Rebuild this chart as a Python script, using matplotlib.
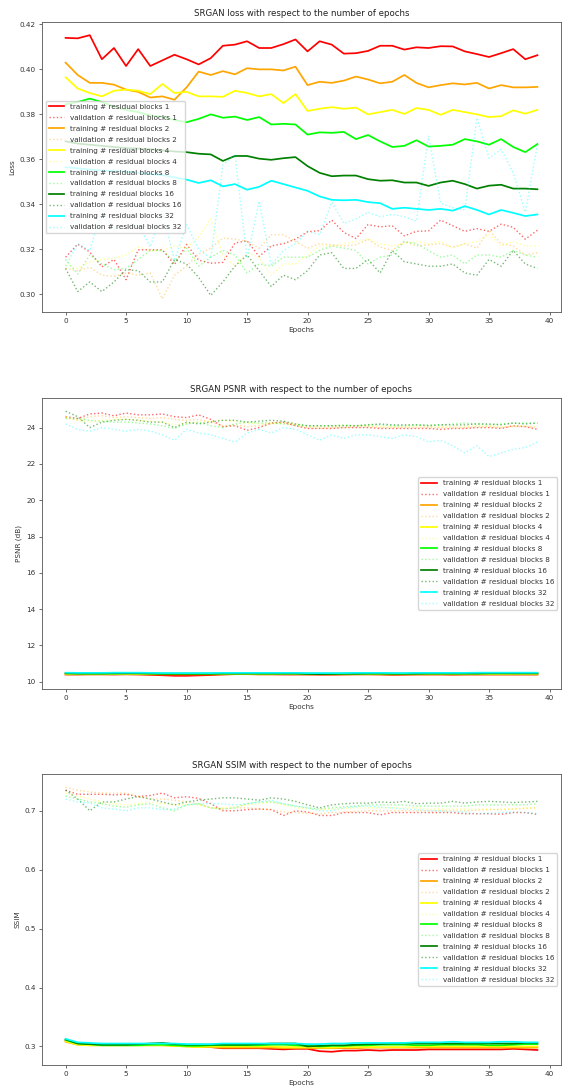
import matplotlib
matplotlib.use("Agg")
import matplotlib.pyplot as plt
import numpy as np

epochs = np.arange(40)
blocks = [1, 2, 4, 8, 16, 32]
train_colors = ["red", "orange", "yellow", "lime", "green", "cyan"]

# ---- loss ----
loss_train_1 = [0.4140, 0.4138, 0.4152, 0.4045, 0.4095, 0.4015, 0.4090, 0.4015, 0.4040, 0.4065,
                0.4045, 0.4022, 0.4050, 0.4105, 0.4110, 0.4125, 0.4095, 0.4095, 0.4112, 0.4133,
                0.4080, 0.4125, 0.4110, 0.4070, 0.4072, 0.4082, 0.4105, 0.4105, 0.4088, 0.4098,
                0.4095, 0.4103, 0.4102, 0.4080, 0.4068, 0.4055, 0.4072, 0.4090, 0.4045, 0.4063]
loss_train_2 = [0.4030, 0.3975, 0.3940, 0.3940, 0.3932, 0.3910, 0.3900, 0.3875, 0.3880, 0.3865,
                0.3920, 0.3990, 0.3975, 0.3992, 0.3978, 0.4005, 0.4000, 0.4000, 0.3995, 0.4012,
                0.3930, 0.3945, 0.3940, 0.3950, 0.3968, 0.3955, 0.3938, 0.3945, 0.3975, 0.3940,
                0.3920, 0.3930, 0.3938, 0.3933, 0.3940, 0.3915, 0.3930, 0.3920, 0.3920, 0.3922]
loss_train_4 = [0.3965, 0.3915, 0.3895, 0.3880, 0.3905, 0.3910, 0.3905, 0.3890, 0.3935, 0.3895,
                0.3900, 0.3880, 0.3880, 0.3878, 0.3905, 0.3895, 0.3880, 0.3890, 0.3850, 0.3890,
                0.3815, 0.3825, 0.3832, 0.3825, 0.3830, 0.3800, 0.3810, 0.3820, 0.3802, 0.3828,
                0.3820, 0.3798, 0.3820, 0.3810, 0.3800, 0.3788, 0.3792, 0.3818, 0.3803, 0.3820]
loss_train_8 = [0.3845, 0.3855, 0.3870, 0.3855, 0.3835, 0.3820, 0.3810, 0.3795, 0.3790, 0.3775,
                0.3765, 0.3780, 0.3800, 0.3785, 0.3790, 0.3775, 0.3788, 0.3755, 0.3758, 0.3755,
                0.3710, 0.3720, 0.3718, 0.3722, 0.3690, 0.3708, 0.3680, 0.3655, 0.3660, 0.3685,
                0.3657, 0.3660, 0.3665, 0.3690, 0.3680, 0.3665, 0.3690, 0.3655, 0.3632, 0.3668]
loss_train_16 = [0.3680, 0.3670, 0.3665, 0.3660, 0.3655, 0.3650, 0.3648, 0.3645, 0.3640, 0.3635,
                 0.3632, 0.3625, 0.3622, 0.3593, 0.3615, 0.3615, 0.3603, 0.3598, 0.3605, 0.3610,
                 0.3570, 0.3540, 0.3525, 0.3528, 0.3528, 0.3512, 0.3505, 0.3507, 0.3497, 0.3497,
                 0.3482, 0.3497, 0.3505, 0.3490, 0.3470, 0.3483, 0.3487, 0.3470, 0.3470, 0.3467]
loss_train_32 = [0.3565, 0.3560, 0.3555, 0.3550, 0.3548, 0.3545, 0.3540, 0.3535, 0.3530, 0.3520,
                 0.3510, 0.3495, 0.3507, 0.3480, 0.3490, 0.3465, 0.3478, 0.3505, 0.3490, 0.3475,
                 0.3460, 0.3435, 0.3420, 0.3418, 0.3420, 0.3410, 0.3405, 0.3380, 0.3385, 0.3380,
                 0.3375, 0.3380, 0.3372, 0.3392, 0.3375, 0.3355, 0.3375, 0.3362, 0.3348, 0.3355]
loss_val_1 = [0.3165, 0.3223, 0.3188, 0.3122, 0.3155, 0.3065, 0.3198, 0.3198, 0.3198, 0.3132,
              0.3222, 0.3152, 0.3138, 0.3142, 0.3228, 0.3238, 0.3168, 0.3215, 0.3225, 0.3245,
              0.3278, 0.3283, 0.3330, 0.3275, 0.3248, 0.3310, 0.3300, 0.3305, 0.3260, 0.3280,
              0.3282, 0.3330, 0.3305, 0.3280, 0.3292, 0.3280, 0.3312, 0.3298, 0.3245, 0.3285]
loss_val_2 = [0.3115, 0.3105, 0.3120, 0.3085, 0.3080, 0.3095, 0.3085, 0.3095, 0.2980, 0.3085,
              0.3125, 0.3180, 0.3205, 0.3250, 0.3245, 0.3235, 0.3205, 0.3265, 0.3265, 0.3235,
              0.3205, 0.3225, 0.3220, 0.3215, 0.3220, 0.3245, 0.3210, 0.3195, 0.3235, 0.3215,
              0.3220, 0.3225, 0.3210, 0.3225, 0.3205, 0.3285, 0.3225, 0.3215, 0.3175, 0.3185]
loss_val_4 = [0.3130, 0.3115, 0.3145, 0.3155, 0.3160, 0.3175, 0.3210, 0.3195, 0.3195, 0.3215,
              0.3205, 0.3255, 0.3335, 0.3175, 0.3125, 0.3185, 0.3165, 0.3085, 0.3135, 0.3135,
              0.3175, 0.3215, 0.3215, 0.3225, 0.3235, 0.3245, 0.3225, 0.3215, 0.3225, 0.3235,
              0.3225, 0.3235, 0.3205, 0.3225, 0.3235, 0.3265, 0.3215, 0.3235, 0.3215, 0.3215]
loss_val_8 = [0.3155, 0.3090, 0.3175, 0.3135, 0.3110, 0.3115, 0.3155, 0.3195, 0.3195, 0.3145,
              0.3205, 0.3125, 0.3165, 0.3195, 0.3175, 0.3095, 0.3135, 0.3125, 0.3165, 0.3165,
              0.3165, 0.3195, 0.3215, 0.3205, 0.3195, 0.3135, 0.3165, 0.3175, 0.3235, 0.3225,
              0.3195, 0.3165, 0.3175, 0.3135, 0.3175, 0.3175, 0.3165, 0.3195, 0.3175, 0.3165]
loss_val_16 = [0.3115, 0.3012, 0.3055, 0.3012, 0.3055, 0.3110, 0.3105, 0.3055, 0.3055, 0.3155,
               0.3135, 0.3075, 0.2995, 0.3055, 0.3125, 0.3175, 0.3105, 0.3035, 0.3085, 0.3065,
               0.3105, 0.3175, 0.3185, 0.3115, 0.3115, 0.3155, 0.3095, 0.3195, 0.3145, 0.3135,
               0.3125, 0.3125, 0.3135, 0.3095, 0.3085, 0.3155, 0.3125, 0.3195, 0.3135, 0.3115]
loss_val_32 = [0.3125, 0.3225, 0.3195, 0.3380, 0.3290, 0.3305, 0.3310, 0.3210, 0.3370, 0.3150,
               0.3310, 0.3200, 0.3160, 0.3575, 0.3620, 0.3160, 0.3415, 0.3130, 0.3195, 0.3225,
               0.3280, 0.3265, 0.3410, 0.3315, 0.3335, 0.3365, 0.3345, 0.3355, 0.3345, 0.3325,
               0.3705, 0.3405, 0.3385, 0.3375, 0.3785, 0.3605, 0.3645, 0.3540, 0.3365, 0.3665]

# ---- PSNR ----
psnr_train_1 = [10.40, 10.40, 10.41, 10.41, 10.40, 10.41, 10.40, 10.38, 10.36, 10.33,
                10.33, 10.35, 10.37, 10.40, 10.42, 10.42, 10.41, 10.41, 10.40, 10.40,
                10.40, 10.39, 10.39, 10.40, 10.41, 10.41, 10.40, 10.38, 10.39, 10.40,
                10.40, 10.40, 10.39, 10.40, 10.40, 10.40, 10.40, 10.40, 10.40, 10.40]
psnr_train_2 = [10.41, 10.41, 10.41, 10.41, 10.42, 10.42, 10.41, 10.41, 10.41, 10.41,
                10.41, 10.41, 10.41, 10.41, 10.42, 10.42, 10.41, 10.41, 10.42, 10.42,
                10.41, 10.41, 10.41, 10.41, 10.41, 10.41, 10.41, 10.40, 10.41, 10.41,
                10.41, 10.41, 10.41, 10.41, 10.41, 10.41, 10.41, 10.41, 10.41, 10.41]
psnr_train_4 = [10.42, 10.42, 10.42, 10.42, 10.42, 10.43, 10.42, 10.42, 10.42, 10.42,
                10.42, 10.42, 10.42, 10.42, 10.43, 10.43, 10.42, 10.42, 10.43, 10.43,
                10.42, 10.42, 10.42, 10.42, 10.42, 10.43, 10.42, 10.42, 10.42, 10.42,
                10.42, 10.42, 10.42, 10.42, 10.42, 10.42, 10.42, 10.43, 10.43, 10.43]
psnr_train_8 = [10.47, 10.46, 10.46, 10.46, 10.46, 10.47, 10.47, 10.46, 10.45, 10.45,
                10.45, 10.45, 10.45, 10.46, 10.46, 10.47, 10.46, 10.46, 10.46, 10.46,
                10.45, 10.44, 10.44, 10.45, 10.45, 10.46, 10.46, 10.45, 10.45, 10.46,
                10.46, 10.46, 10.46, 10.46, 10.46, 10.47, 10.47, 10.47, 10.47, 10.47]
psnr_train_16 = [10.46, 10.45, 10.45, 10.45, 10.46, 10.46, 10.46, 10.45, 10.44, 10.44,
                 10.44, 10.44, 10.44, 10.45, 10.45, 10.45, 10.45, 10.45, 10.45, 10.45,
                 10.43, 10.42, 10.43, 10.44, 10.44, 10.45, 10.45, 10.44, 10.44, 10.44,
                 10.45, 10.45, 10.45, 10.45, 10.45, 10.46, 10.46, 10.46, 10.46, 10.46]
psnr_train_32 = [10.50, 10.49, 10.49, 10.49, 10.50, 10.50, 10.50, 10.49, 10.48, 10.48,
                 10.48, 10.48, 10.48, 10.49, 10.49, 10.49, 10.49, 10.49, 10.49, 10.49,
                 10.48, 10.48, 10.48, 10.48, 10.49, 10.49, 10.49, 10.48, 10.48, 10.49,
                 10.49, 10.49, 10.49, 10.49, 10.50, 10.50, 10.50, 10.50, 10.50, 10.50]
psnr_val_1 = [24.60, 24.50, 24.75, 24.80, 24.65, 24.80, 24.70, 24.70, 24.75, 24.60,
              24.55, 24.70, 24.45, 24.05, 24.10, 23.85, 24.00, 24.25, 24.30, 24.10,
              23.95, 23.95, 23.95, 24.00, 24.00, 24.00, 23.95, 23.95, 23.95, 23.95,
              23.95, 23.90, 23.95, 23.95, 24.00, 24.00, 23.95, 24.10, 24.05, 23.90]
psnr_val_2 = [24.55, 24.40, 24.60, 24.65, 24.55, 24.60, 24.55, 24.50, 24.55, 24.45,
              24.40, 24.45, 24.30, 24.10, 24.15, 24.05, 24.10, 24.20, 24.25, 24.10,
              24.00, 23.95, 24.00, 24.00, 24.05, 24.05, 24.00, 24.00, 24.00, 24.00,
              24.00, 24.00, 24.00, 24.00, 24.05, 24.05, 24.00, 24.05, 24.05, 24.00]
psnr_val_4 = [24.60, 24.40, 24.30, 24.40, 24.45, 24.45, 24.40, 24.35, 24.30, 24.15,
              24.25, 24.30, 24.35, 24.40, 24.35, 24.25, 24.20, 24.25, 24.30, 24.20,
              24.05, 24.05, 24.05, 24.10, 24.10, 24.10, 24.05, 24.05, 24.05, 24.10,
              24.05, 24.05, 24.05, 24.05, 24.10, 24.10, 24.05, 24.10, 24.10, 24.05]
psnr_val_8 = [24.50, 24.50, 24.40, 24.35, 24.30, 24.30, 24.25, 24.20, 24.10, 23.95,
              24.20, 24.30, 24.10, 24.00, 24.20, 24.30, 24.25, 24.25, 24.20, 24.15,
              24.10, 24.10, 24.10, 24.15, 24.10, 24.15, 24.15, 24.10, 24.10, 24.15,
              24.15, 24.15, 24.20, 24.25, 24.20, 24.15, 24.20, 24.25, 24.25, 24.25]
psnr_val_16 = [24.90, 24.60, 24.00, 24.30, 24.40, 24.45, 24.40, 24.30, 24.30, 24.00,
               24.30, 24.20, 24.30, 24.40, 24.40, 24.30, 24.35, 24.40, 24.35, 24.20,
               24.10, 24.10, 24.10, 24.10, 24.10, 24.15, 24.20, 24.15, 24.15, 24.15,
               24.10, 24.15, 24.15, 24.15, 24.20, 24.20, 24.15, 24.25, 24.20, 24.25]
psnr_val_32 = [24.20, 23.90, 23.80, 24.00, 23.90, 23.80, 23.90, 23.80, 23.60, 23.30,
               23.90, 23.70, 23.60, 23.40, 23.20, 23.70, 23.90, 23.70, 24.00, 23.90,
               23.60, 23.30, 23.60, 23.40, 23.60, 23.60, 23.50, 23.40, 23.60, 23.50,
               23.20, 23.30, 23.00, 22.60, 23.00, 22.40, 22.60, 22.80, 22.90, 23.20]

# ---- SSIM ----
ssim_train_1 = [0.310, 0.304, 0.303, 0.303, 0.303, 0.303, 0.304, 0.304, 0.304, 0.302,
                0.301, 0.300, 0.299, 0.297, 0.297, 0.297, 0.297, 0.296, 0.295, 0.296,
                0.296, 0.292, 0.291, 0.293, 0.293, 0.294, 0.293, 0.294, 0.294, 0.294,
                0.295, 0.295, 0.295, 0.295, 0.295, 0.295, 0.295, 0.296, 0.295, 0.294]
ssim_train_2 = [0.308, 0.303, 0.302, 0.302, 0.302, 0.302, 0.302, 0.302, 0.302, 0.301,
                0.300, 0.299, 0.299, 0.298, 0.298, 0.298, 0.298, 0.298, 0.297, 0.297,
                0.297, 0.297, 0.297, 0.297, 0.297, 0.298, 0.298, 0.298, 0.298, 0.298,
                0.298, 0.298, 0.298, 0.298, 0.298, 0.298, 0.298, 0.298, 0.298, 0.298]
ssim_train_4 = [0.309, 0.303, 0.302, 0.302, 0.302, 0.302, 0.302, 0.302, 0.302, 0.301,
                0.300, 0.299, 0.300, 0.300, 0.300, 0.300, 0.300, 0.300, 0.299, 0.299,
                0.299, 0.298, 0.298, 0.299, 0.299, 0.299, 0.299, 0.299, 0.299, 0.300,
                0.300, 0.300, 0.300, 0.300, 0.300, 0.300, 0.300, 0.300, 0.300, 0.300]
ssim_train_8 = [0.311, 0.305, 0.304, 0.302, 0.302, 0.302, 0.302, 0.303, 0.303, 0.302,
                0.301, 0.301, 0.302, 0.302, 0.302, 0.302, 0.302, 0.303, 0.303, 0.302,
                0.301, 0.300, 0.301, 0.301, 0.302, 0.302, 0.303, 0.303, 0.303, 0.302,
                0.302, 0.303, 0.303, 0.303, 0.303, 0.302, 0.302, 0.303, 0.304, 0.304]
ssim_train_16 = [0.312, 0.305, 0.304, 0.303, 0.303, 0.303, 0.304, 0.305, 0.306, 0.304,
                 0.303, 0.303, 0.303, 0.303, 0.303, 0.303, 0.304, 0.305, 0.305, 0.305,
                 0.300, 0.301, 0.302, 0.302, 0.303, 0.304, 0.304, 0.305, 0.305, 0.305,
                 0.305, 0.305, 0.305, 0.305, 0.305, 0.305, 0.305, 0.305, 0.306, 0.306]
ssim_train_32 = [0.313, 0.307, 0.306, 0.305, 0.305, 0.305, 0.305, 0.305, 0.305, 0.305,
                 0.304, 0.304, 0.304, 0.305, 0.305, 0.305, 0.305, 0.305, 0.305, 0.305,
                 0.304, 0.304, 0.305, 0.305, 0.306, 0.306, 0.306, 0.306, 0.306, 0.307,
                 0.307, 0.307, 0.308, 0.307, 0.307, 0.307, 0.308, 0.308, 0.307, 0.307]
ssim_val_1 = [0.735, 0.728, 0.728, 0.728, 0.727, 0.728, 0.724, 0.726, 0.730, 0.722,
              0.724, 0.721, 0.712, 0.700, 0.700, 0.702, 0.703, 0.702, 0.692, 0.700,
              0.698, 0.692, 0.692, 0.697, 0.697, 0.697, 0.693, 0.697, 0.697, 0.697,
              0.697, 0.697, 0.697, 0.695, 0.695, 0.695, 0.694, 0.697, 0.697, 0.694]
ssim_val_2 = [0.740, 0.735, 0.732, 0.730, 0.730, 0.730, 0.725, 0.720, 0.720, 0.718,
              0.715, 0.712, 0.705, 0.703, 0.705, 0.705, 0.703, 0.702, 0.698, 0.697,
              0.696, 0.695, 0.697, 0.698, 0.699, 0.700, 0.700, 0.700, 0.700, 0.700,
              0.700, 0.700, 0.700, 0.700, 0.701, 0.702, 0.702, 0.703, 0.704, 0.705]
ssim_val_4 = [0.730, 0.725, 0.720, 0.715, 0.712, 0.710, 0.712, 0.715, 0.712, 0.710,
              0.710, 0.710, 0.705, 0.705, 0.708, 0.710, 0.712, 0.715, 0.710, 0.705,
              0.703, 0.702, 0.703, 0.704, 0.705, 0.705, 0.705, 0.705, 0.705, 0.705,
              0.703, 0.703, 0.703, 0.703, 0.703, 0.703, 0.703, 0.703, 0.705, 0.705]
ssim_val_8 = [0.725, 0.720, 0.715, 0.712, 0.708, 0.706, 0.710, 0.712, 0.705, 0.700,
              0.710, 0.712, 0.705, 0.703, 0.705, 0.712, 0.715, 0.715, 0.712, 0.708,
              0.705, 0.703, 0.705, 0.707, 0.708, 0.710, 0.710, 0.710, 0.710, 0.708,
              0.708, 0.708, 0.708, 0.708, 0.710, 0.710, 0.710, 0.710, 0.710, 0.712]
ssim_val_16 = [0.735, 0.720, 0.700, 0.715, 0.715, 0.720, 0.724, 0.720, 0.715, 0.710,
               0.715, 0.718, 0.720, 0.722, 0.722, 0.720, 0.718, 0.722, 0.720, 0.716,
               0.710, 0.705, 0.710, 0.712, 0.713, 0.713, 0.715, 0.714, 0.716, 0.712,
               0.713, 0.713, 0.716, 0.713, 0.715, 0.716, 0.715, 0.714, 0.715, 0.716]
ssim_val_32 = [0.720, 0.715, 0.713, 0.705, 0.703, 0.700, 0.705, 0.705, 0.702, 0.703,
               0.710, 0.712, 0.712, 0.712, 0.710, 0.712, 0.715, 0.718, 0.712, 0.708,
               0.705, 0.700, 0.700, 0.705, 0.707, 0.708, 0.706, 0.705, 0.703, 0.702,
               0.700, 0.700, 0.698, 0.698, 0.695, 0.696, 0.697, 0.698, 0.697, 0.695]

panels = [
    ("SRGAN loss with respect to the number of epochs", "Loss",
     [loss_train_1, loss_train_2, loss_train_4, loss_train_8, loss_train_16, loss_train_32],
     [loss_val_1, loss_val_2, loss_val_4, loss_val_8, loss_val_16, loss_val_32],
     "center left", np.arange(0.30, 0.4201, 0.02), "{:.2f}"),
    ("SRGAN PSNR with respect to the number of epochs", "PSNR (dB)",
     [psnr_train_1, psnr_train_2, psnr_train_4, psnr_train_8, psnr_train_16, psnr_train_32],
     [psnr_val_1, psnr_val_2, psnr_val_4, psnr_val_8, psnr_val_16, psnr_val_32],
     "center right", np.arange(10, 25, 2), "{:.0f}"),
    ("SRGAN SSIM with respect to the number of epochs", "SSIM",
     [ssim_train_1, ssim_train_2, ssim_train_4, ssim_train_8, ssim_train_16, ssim_train_32],
     [ssim_val_1, ssim_val_2, ssim_val_4, ssim_val_8, ssim_val_16, ssim_val_32],
     "center right", np.arange(0.3, 0.71, 0.1), "{:.1f}"),
]

# validation curves are drawn dotted and translucent in the training colour
val_alpha = [0.6, 0.4, 0.4, 0.4, 0.55, 0.4]

W, H = 562, 1091
fig = plt.figure(figsize=(W / 100, H / 100), dpi=100)
boxes = [(22, 312), (398, 689), (774, 1065)]
left, right = 42, 561

for (title, ylabel, trains, vals, loc, yticks, fmt), (top, bottom) in zip(panels, boxes):
    ax = fig.add_axes([left / W, 1 - bottom / H, (right - left) / W, (bottom - top) / H])
    for b, c, a, tr, va in zip(blocks, train_colors, val_alpha, trains, vals):
        ax.plot(epochs, tr, color=c, lw=1.25, label=f"training # residual blocks {b}")
        ax.plot(epochs, va, color=c, lw=1.0, ls=":", alpha=a,
                label=f"validation # residual blocks {b}")
    ax.set_title(title, fontsize=6.2, pad=4, color="#222222")
    ax.set_xlabel("Epochs", fontsize=5.2, labelpad=2, color="#333333")
    ax.set_ylabel(ylabel, fontsize=5.2, labelpad=3, color="#333333")
    ax.set_yticks(yticks)
    ax.set_yticklabels([fmt.format(v) for v in yticks])
    ax.set_xticks(np.arange(0, 41, 5))
    ax.tick_params(labelsize=5.2, length=2.5, width=0.6, pad=2,
                   color="#555555", labelcolor="#333333")
    for s in ax.spines.values():
        s.set_linewidth(0.6)
        s.set_color("#555555")
    leg = ax.legend(loc=loc, fontsize=5.2, handlelength=2.2, labelspacing=0.68,
                    borderpad=0.4, framealpha=0.8)
    for t in leg.get_texts():
        t.set_color("#333333")

fig.savefig("out.png", dpi=100)
